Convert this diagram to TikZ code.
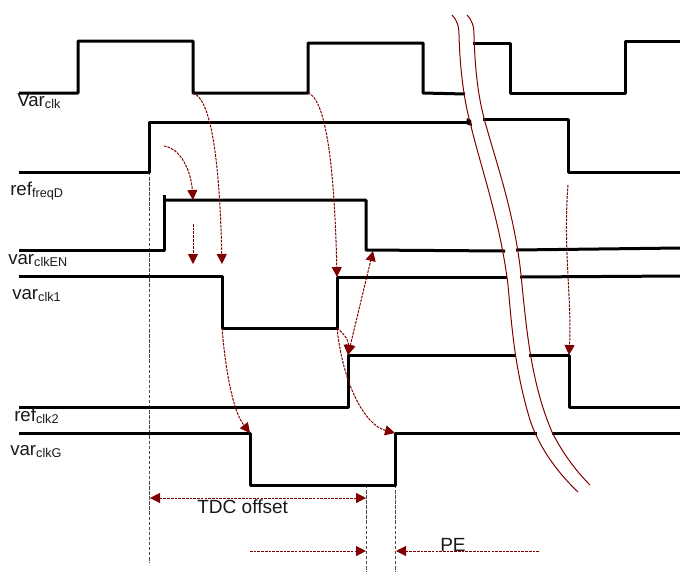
\documentclass[tikz,border=0pt]{standalone}
\usepackage{fontspec}
\setmainfont{Liberation Sans}
\usetikzlibrary{arrows.meta}
\definecolor{dred}{HTML}{800000}
\newcommand{\siglab}[2]{{\fontsize{14pt}{15pt}\selectfont #1}{\fontsize{9.5pt}{10pt}\selectfont\raisebox{-1.5pt}{#2}}}
\tikzset{
  wave/.style={line width=2.25pt,black,line join=round,line cap=butt},
  brk/.style={line width=0.75pt,dred},
  guide/.style={line width=0.75pt,black!70,dash pattern=on 2.6pt off 1.2pt},
  cause/.style={line width=0.75pt,dred,dash pattern=on 2pt off 0.8pt,-{Triangle[length=7.5pt,width=7.5pt]}},
  causeb/.style={cause,{Triangle[length=7.5pt,width=7.5pt]}-{Triangle[length=7.5pt,width=7.5pt]}},
  lab/.style={anchor=base west,inner sep=0pt,text=black!90}
}
\begin{document}
\begin{tikzpicture}[x=0.75pt,y=-0.75pt]
\useasboundingbox (0,0) rectangle (680,572);
% named anchor points
\coordinate (clkF1) at (193,93);
\coordinate (clkF2) at (308,93);
\coordinate (enTop) at (193,200);
\coordinate (fbA) at (193,224);
\coordinate (fbB) at (193,264);
\coordinate (oneTop) at (222,264);
\coordinate (oneR) at (337,277);
\coordinate (oneLo) at (222,328);
\coordinate (oneHi) at (337,328);
\coordinate (gFall) at (250,433);
\coordinate (gRise) at (395,433);
\coordinate (twoR) at (348,355);
\coordinate (enF) at (373,251);
\coordinate (twoF) at (569,355);
\coordinate (refF) at (568,185);
\coordinate (tdcL) at (150,498);
\coordinate (tdcR) at (366,498);
\coordinate (peA) at (250,551);
\coordinate (peB) at (366,551);
\coordinate (peC) at (539,551);
\coordinate (peD) at (396,551);
\coordinate (c0) at (164,146);
% guides
\draw[guide] (149,172) -- (149,563);
\draw[guide] (366,485) -- (366,572);
\draw[guide] (395,485) -- (395,572);
% waveforms
\draw[wave] (19,93) -- (78,93) -- (78,41) -- (193,41) -- (193,93) -- (308,93) -- (308,43) -- (423,43) -- (423,93) -- (465,94);
\draw[wave] (473,43) -- (510,43) -- (510,93) -- (625,93) -- (625,41) -- (680,41);
\draw[wave] (19,172) -- (149,172) -- (149,122) -- (469,122);
\fill (467,118) -- (471,120) -- (472,126) -- (466,124) -- cycle;
\draw[wave] (483,119) -- (568,119) -- (568,172) -- (680,172);
\draw[wave] (19,250) -- (164,250) -- (164,195);
\draw[wave] (164,200) -- (366,200) -- (366,250) -- (505,251);
\draw[wave] (516,250) -- (680,248);
\draw[wave] (19,276) -- (222,276) -- (222,328) -- (337,328) -- (337,277) -- (507,277);
\draw[wave] (520,277) -- (680,276);
\draw[wave] (19,407) -- (348,407) -- (348,355) -- (516,355);
\draw[wave] (529,355) -- (569,355) -- (569,407) -- (680,407);
\draw[wave] (19,433) -- (250,433) -- (250,485) -- (395,485) -- (395,433) -- (537,433);
\draw[wave] (552,433) -- (680,433);
% axis break
\draw[brk] (452,15) .. controls (457,20) and (459,26) .. (459,35) .. controls (460,70) and (464,100) .. (470,122) .. controls (480,165) and (500,220) .. (508,285) .. controls (512,330) and (515,370) .. (530,420) .. controls (540,450) and (560,475) .. (578,492);
\draw[brk] (467,15) .. controls (472,20) and (474,26) .. (474,35) .. controls (475,70) and (478,95) .. (484,118) .. controls (495,160) and (516,215) .. (522,285) .. controls (527,335) and (532,385) .. (552,432) .. controls (562,452) and (575,470) .. (590,485);
% causal arrows
\draw[cause] (c0) .. controls (180,148) and (191,170) .. (enTop);
\draw[cause] (fbA) -- (fbB);
\draw[cause] (clkF1) .. controls (214,100) and (220,180) .. (oneTop);
\draw[cause] (clkF2) .. controls (329,100) and (335,190) .. (oneR);
\draw[cause] (oneLo) .. controls (225,365) and (232,410) .. (gFall);
\draw[cause] (oneHi) .. controls (343,385) and (365,425) .. (gRise);
\draw[cause] (oneHi) .. controls (343,333) and (349,340) .. (twoR);
\draw[causeb] (twoR) -- (enF);
\draw[cause] (refF) .. controls (563,250) and (572,300) .. (twoF);
% dimension arrows
\draw[causeb] (tdcL) -- (tdcR);
\draw[cause] (peA) -- (peB);
\draw[cause] (peC) -- (peD);
% labels
\node[lab] (l1) at (17,106) {\siglab{Var}{clk}};
\node[lab] (l2) at (10,195) {\siglab{ref}{freqD}};
\node[lab] (l3) at (8,264) {\siglab{var}{clkEN}};
\node[lab] (l4) at (12,299) {\siglab{var}{clk1}};
\node[lab] (l5) at (14,421) {\siglab{ref}{clk2}};
\node[lab] (l6) at (10,455) {\siglab{var}{clkG}};
\node[lab] (tdc) at (197,513) {\fontsize{14.3pt}{16pt}\selectfont TDC offset};
\node[lab] (pe) at (440,551) {\fontsize{14.3pt}{16pt}\selectfont PE};
\end{tikzpicture}
\end{document}
